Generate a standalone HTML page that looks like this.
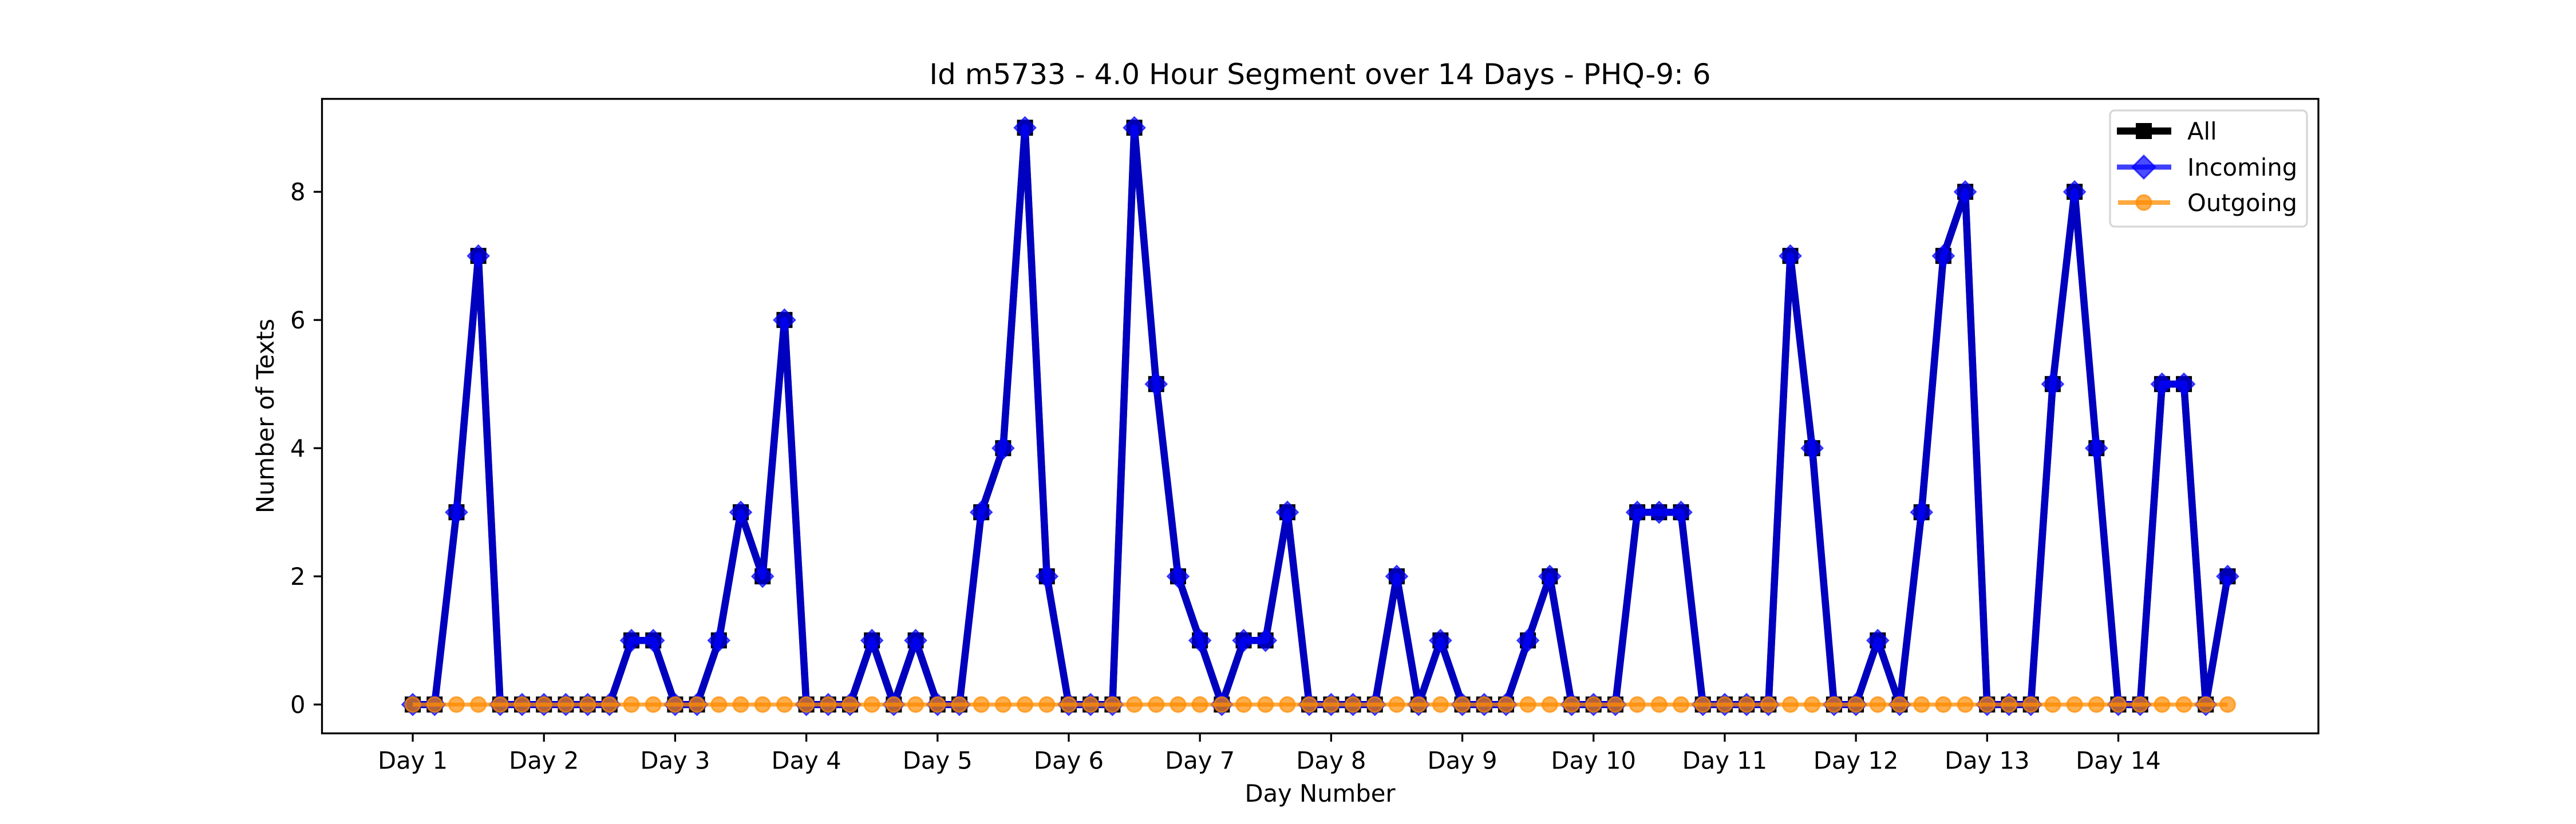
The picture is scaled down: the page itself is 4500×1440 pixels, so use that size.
<!DOCTYPE html>
<html><head><meta charset="utf-8"><style>
html,body{margin:0;padding:0;background:#fff;}
svg{display:block;font-family:"DejaVu Sans","Liberation Sans",sans-serif;}
</style></head><body>
<svg id="chart" width="4500" height="1440" viewBox="0 0 4500 1440" xmlns="http://www.w3.org/2000/svg">
<rect width="4500" height="1440" fill="#fff"/>
<text x="2306" y="147" font-size="50" text-anchor="middle">Id m5733 - 4.0 Hour Segment over 14 Days - PHQ-9: 6</text>
<g id="grid"></g>
<g id="series"></g>
<rect x="562.5" y="172.8" width="3487.5" height="1108.8" fill="none" stroke="#000" stroke-width="3.3"/>
<text x="2306" y="1401" font-size="41.7" text-anchor="middle">Day Number</text>
<text transform="translate(478,727) rotate(-90)" font-size="41.7" text-anchor="middle">Number of Texts</text>
<g id="legend">
<rect x="3686" y="193" width="344" height="203" rx="8" fill="#fff" fill-opacity="0.8" stroke="#d6d6d6" stroke-width="3.3"/>
<g>
<line x1="3698" y1="229" x2="3793" y2="229" stroke="#000" stroke-width="12.5"/>
<rect x="3731" y="215" width="28" height="28" fill="#000"/>
<text x="3821" y="244" font-size="41.7">All</text></g>
<g>
<line x1="3698" y1="292" x2="3793" y2="292" stroke="#0000ff" stroke-opacity="0.75" stroke-width="9"/>
<polygon points="3745,272 3765,292 3745,312 3725,292" fill="#0000ff" fill-opacity="0.7" stroke="#0000ff" stroke-opacity="0.7" stroke-width="3"/>
<text x="3821" y="307" font-size="41.7">Incoming</text></g>
<g>
<line x1="3700" y1="354" x2="3791" y2="354" stroke="#ff8c00" stroke-opacity="0.75" stroke-width="8"/>
<circle cx="3745" cy="354" r="13" fill="#ff8c00" fill-opacity="0.7" stroke="#ff8c00" stroke-opacity="0.7" stroke-width="3"/>
<text x="3821" y="369" font-size="41.7">Outgoing</text></g>
</g>
</svg>
<script>
const dayLabels = ["Day 1","Day 2","Day 3","Day 4","Day 5","Day 6","Day 7","Day 8","Day 9","Day 10","Day 11","Day 12","Day 13","Day 14"];
const yTicks = [0,2,4,6,8];
const incoming = [0,0,3,7,0,0, 0,0,0,0,1,1, 0,0,1,3,2,6, 0,0,0,1,0,1, 0,0,3,4,9,2, 0,0,0,9,5,2, 1,0,1,1,3,0, 0,0,0,2,0,1, 0,0,0,1,2,0, 0,0,3,3,3,0, 0,0,0,7,4,0, 0,1,0,3,7,8, 0,0,0,5,8,4, 0,0,5,5,0,2];
const allTexts = incoming.slice();
const outgoing = [0,0,0,0,0,0, 0,0,0,0,0,0, 0,0,0,0,0,0, 0,0,0,0,0,0, 0,0,0,0,0,0, 0,0,0,0,0,0, 0,0,0,0,0,0, 0,0,0,0,0,0, 0,0,0,0,0,0, 0,0,0,0,0,0, 0,0,0,0,0,0, 0,0,0,0,0,0, 0,0,0,0,0,0, 0,0,0,0,0,0];

const NS="http://www.w3.org/2000/svg";
const L=562.5,R=4050,T=172.8,B=1281.6;
const n=incoming.length;
const xMin=-0.05*(n-1), xMax=(n-1)*1.05;
const allMax=Math.max(...allTexts,...incoming,...outgoing,1);
const yMin=-0.05*allMax, yMax=allMax*1.05;
function xs(i){return L+(i-xMin)/(xMax-xMin)*(R-L);}
function ys(v){return B-(v-yMin)/(yMax-yMin)*(B-T);}
function mk(tag,attrs,parent){const e=document.createElementNS(NS,tag);for(const k in attrs)e.setAttribute(k,attrs[k]);parent.appendChild(e);return e;}
const grid=document.getElementById('grid');
const ser=document.getElementById('series');

dayLabels.forEach((d,k)=>{
  const x=xs(k*6);
  const t=mk('line',{x1:x,y1:B,x2:x,y2:B+14.6,stroke:'#000','stroke-width':3.3},grid);
  
  
  const tx=mk('text',{x:x,y:B+62,'font-size':41.7,'text-anchor':'middle'},grid);
  tx.textContent=d;
  
  
});
yTicks.forEach(v=>{
  const y=ys(v);
  const t=mk('line',{x1:L-14.6,y1:y,x2:L,y2:y,stroke:'#000','stroke-width':3.3},grid);
  
  
  const tx=mk('text',{x:L-29,y:y+15,'font-size':41.7,'text-anchor':'end'},grid);
  tx.textContent=String(v);
  
  
});
function pts(arr){return arr.map((v,i)=>xs(i)+','+ys(v)).join(' ');}

const gA=mk('g',{},ser);


const lA=mk('polyline',{points:pts(allTexts),fill:'none',stroke:'#000','stroke-width':12.5,'stroke-linejoin':'round'},gA);


allTexts.forEach((v,i)=>{
  const r=mk('rect',{x:xs(i)-14,y:ys(v)-14,width:28,height:28,fill:'#000'},gA);
  
  
});
const gI=mk('g',{},ser);


const lI=mk('polyline',{points:pts(incoming),fill:'none',stroke:'#0000ff','stroke-opacity':0.75,'stroke-width':12.5,'stroke-linejoin':'round'},gI);


incoming.forEach((v,i)=>{
  const x=xs(i),y=ys(v);
  const p=mk('polygon',{points:`${x},${y-19} ${x+19},${y} ${x},${y+19} ${x-19},${y}`,fill:'#0000ff','fill-opacity':0.7,stroke:'#0000ff','stroke-opacity':0.7,'stroke-width':2},gI);
  
  
});
const gO=mk('g',{},ser);


const lO=mk('polyline',{points:pts(outgoing),fill:'none',stroke:'#ff8c00','stroke-opacity':0.75,'stroke-width':7},gO);


outgoing.forEach((v,i)=>{
  const c=mk('circle',{cx:xs(i),cy:ys(v),r:13,fill:'#ff8c00','fill-opacity':0.7,stroke:'#ff8c00','stroke-opacity':0.7,'stroke-width':3},gO);
  
  
});
</script>
</body></html>
